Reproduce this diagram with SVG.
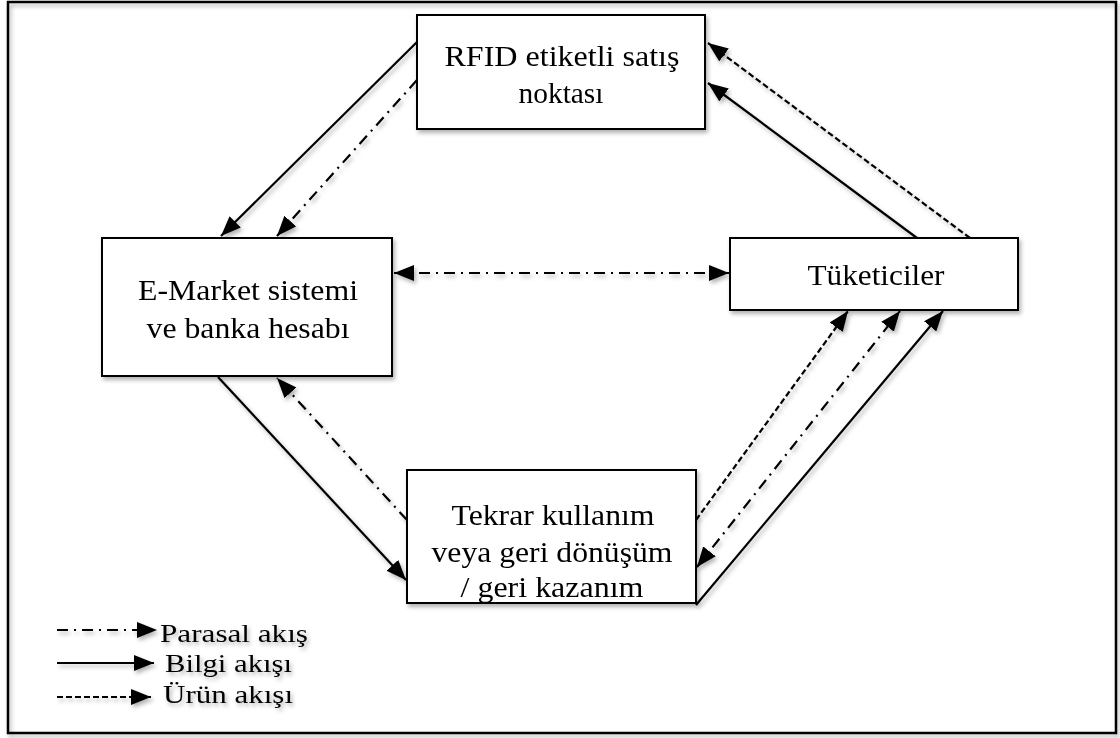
<svg xmlns="http://www.w3.org/2000/svg" width="1120" height="738" viewBox="0 0 1120 738">
  <style>
    .box { fill: #ffffff; stroke: #000000; stroke-width: 2; }
    .lbl { font-family: "Liberation Serif", "Times New Roman", serif; font-size: 30px; fill: #000000; text-anchor: middle; }
    .leg { font-family: "Liberation Serif", "Times New Roman", serif; font-size: 26px; fill: #000000; }
    .ln { fill: none; stroke: #000000; stroke-width: 2.2; }
    .money { stroke-dasharray: 11 6 2 6; }
    .goods { stroke-dasharray: 6 3; }
  </style>
  <defs>
    <filter id="shadow" x="-5%" y="-5%" width="110%" height="110%">
      <feDropShadow dx="2" dy="3" stdDeviation="2" flood-color="#000000" flood-opacity="0.3"/>
    </filter>
    <marker id="head" markerUnits="userSpaceOnUse" markerWidth="22" markerHeight="16" refX="20" refY="8" orient="auto-start-reverse">
      <path d="M0,0 L20,8 L0,16 Z" fill="#000000"/>
    </marker>
  </defs>

  <rect x="0" y="0" width="1120" height="738" fill="#ffffff"/>
  <g filter="url(#shadow)">
    <!-- outer frame -->
    <rect x="8" y="2" width="1108" height="731" fill="none" stroke="#000000" stroke-width="2.5"/>

    <g id="connectors">
      <!-- RFID -> E-Market -->
      <line class="ln" x1="417" y1="42" x2="221" y2="236" marker-end="url(#head)"/>
      <line class="ln money" x1="417" y1="80" x2="277" y2="236" marker-end="url(#head)"/>
      <!-- Tüketiciler -> RFID -->
      <line class="ln goods" x1="970" y1="238" x2="708" y2="43" marker-end="url(#head)"/>
      <line class="ln" x1="917" y1="238" x2="708" y2="83" marker-end="url(#head)"/>
      <!-- E-Market <-> Tüketiciler -->
      <line class="ln money" x1="394" y1="273" x2="729" y2="273" marker-start="url(#head)" marker-end="url(#head)"/>
      <!-- E-Market -> Tekrar -->
      <line class="ln" x1="218" y1="377" x2="406" y2="580" marker-end="url(#head)"/>
      <!-- Tekrar -> E-Market -->
      <line class="ln money" x1="407" y1="520" x2="277" y2="378" marker-end="url(#head)"/>
      <!-- Tekrar <-> Tüketiciler -->
      <line class="ln goods" x1="696" y1="520" x2="848" y2="311" marker-end="url(#head)"/>
      <line class="ln money" x1="697" y1="567" x2="900" y2="311" marker-start="url(#head)" marker-end="url(#head)"/>
      <line class="ln" x1="696" y1="605" x2="943" y2="311" marker-end="url(#head)"/>
    </g>

    <g id="node-rfid">
      <rect class="box" x="417" y="15" width="288" height="114"/>
      <text class="lbl" x="562" y="66" textLength="235" lengthAdjust="spacingAndGlyphs">RFID etiketli satış</text>
      <text class="lbl" x="561" y="103" textLength="85" lengthAdjust="spacingAndGlyphs">noktası</text>
    </g>
    <g id="node-emarket">
      <rect class="box" x="102" y="238" width="290" height="138"/>
      <text class="lbl" x="248" y="300" textLength="220" lengthAdjust="spacingAndGlyphs">E-Market sistemi</text>
      <text class="lbl" x="248" y="338" textLength="203" lengthAdjust="spacingAndGlyphs">ve banka hesabı</text>
    </g>
    <g id="node-tuketiciler">
      <rect class="box" x="730" y="238" width="288" height="72"/>
      <text class="lbl" x="876" y="285" textLength="137" lengthAdjust="spacingAndGlyphs">Tüketiciler</text>
    </g>
    <g id="node-tekrar">
      <rect class="box" x="407" y="470" width="289" height="133"/>
      <text class="lbl" x="553" y="525" textLength="203" lengthAdjust="spacingAndGlyphs">Tekrar kullanım</text>
      <text class="lbl" x="552" y="562" textLength="241" lengthAdjust="spacingAndGlyphs">veya geri dönüşüm</text>
      <text class="lbl" x="552" y="597" textLength="183" lengthAdjust="spacingAndGlyphs">/ geri kazanım</text>
    </g>

    <g id="legend">
      <line class="ln money" x1="57" y1="630" x2="157" y2="630" marker-end="url(#head)"/>
      <text class="leg" x="160" y="642" textLength="148" lengthAdjust="spacingAndGlyphs">Parasal akış</text>
      <line class="ln" x1="57" y1="663" x2="154" y2="663" marker-end="url(#head)"/>
      <text class="leg" x="165" y="672" textLength="127" lengthAdjust="spacingAndGlyphs">Bilgi akışı</text>
      <line class="ln goods" x1="57" y1="697" x2="151" y2="697" marker-end="url(#head)"/>
      <text class="leg" x="163" y="703" textLength="130" lengthAdjust="spacingAndGlyphs">Ürün akışı</text>
    </g>
  </g>
</svg>
